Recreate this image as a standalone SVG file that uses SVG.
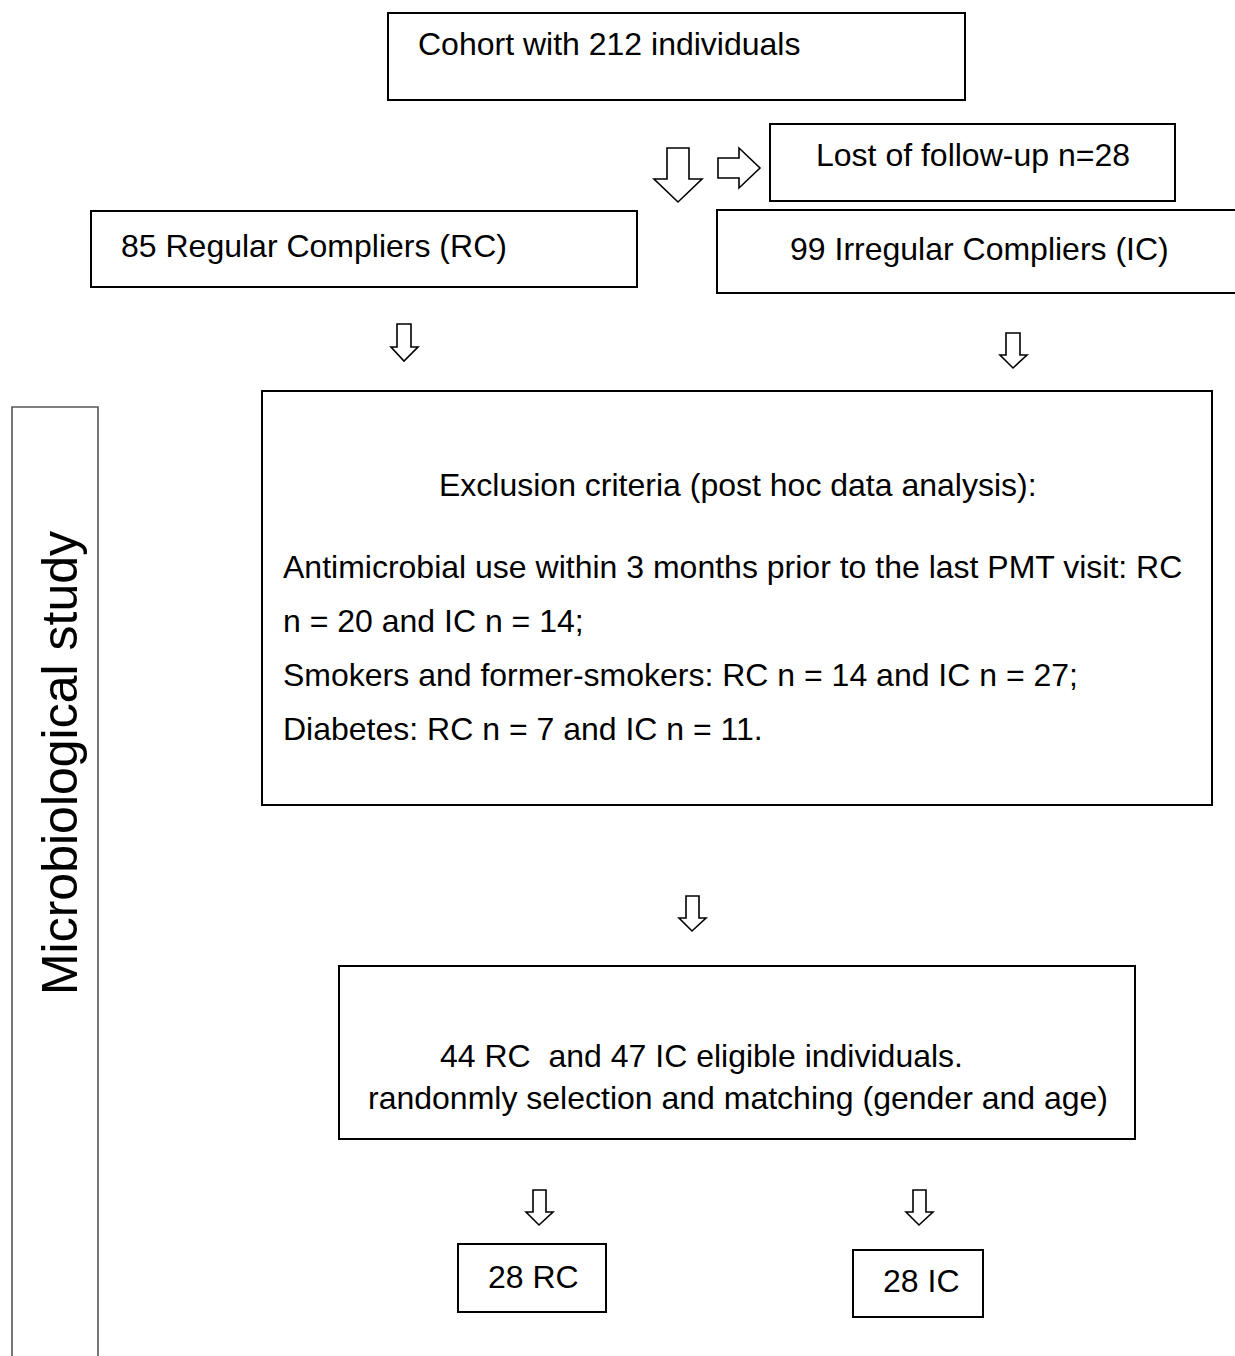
<svg xmlns="http://www.w3.org/2000/svg" width="1235" height="1356" viewBox="0 0 1235 1356">
<style>
text{font-family:"Liberation Sans",Arial,sans-serif;font-size:32px;fill:#000}
text.vert{font-size:50px}
.box{fill:#fff;stroke:#000;stroke-width:2}
.side{fill:none;stroke:#555;stroke-width:1.6}
.arr{fill:#fff;stroke:#000;stroke-width:1.6;stroke-linejoin:miter}
</style>
<rect width="1235" height="1356" fill="#fff"/>
<g id="side-label">
<path class="side" d="M12,1356 V407 H98 V1356"/>
<text class="vert" transform="translate(77,763) rotate(-90)" text-anchor="middle">Microbiological study</text>
</g>
<g id="cohort">
<rect class="box" x="388" y="13" width="577" height="87"/>
<text x="418" y="55">Cohort with 212 individuals</text>
</g>
<g id="lost">
<rect class="box" x="770" y="124" width="405" height="77"/>
<text x="816" y="166">Lost of follow-up n=28</text>
</g>
<g id="rc">
<rect class="box" x="91" y="211" width="546" height="76"/>
<text x="121" y="257">85 Regular Compliers (RC)</text>
</g>
<g id="ic">
<path class="box" d="M1236,210 H717 V293 H1236"/>
<text x="790" y="260">99 Irregular Compliers (IC)</text>
</g>
<g id="exclusion">
<rect class="box" x="262" y="391" width="950" height="414"/>
<text x="439" y="496">Exclusion criteria (post hoc data analysis):</text>
<text x="283" y="578">Antimicrobial use within 3 months prior to the last PMT visit: RC</text>
<text x="283" y="632">n = 20 and IC n = 14;</text>
<text x="283" y="686">Smokers and former-smokers: RC n = 14 and IC n = 27;</text>
<text x="283" y="740">Diabetes: RC n = 7 and IC n = 11.</text>
</g>
<g id="eligible">
<rect class="box" x="339" y="966" width="796" height="173"/>
<text x="440" y="1067">44 RC&#160; and 47 IC eligible individuals.</text>
<text x="368" y="1109">randonmly selection and matching (gender and age)</text>
</g>
<g id="final-rc">
<rect class="box" x="458" y="1244" width="148" height="68"/>
<text x="488" y="1288">28 RC</text>
</g>
<g id="final-ic">
<rect class="box" x="853" y="1250" width="130" height="67"/>
<text x="883" y="1292">28 IC</text>
</g>
<g id="connectors">
<path class="arr" d="M667,148 H689 V179 H702 L678,202 L654,179 H667 Z"/>
<path class="arr" d="M718,158 H739 V148 L760,168 L739,188 V178 H718 Z"/>
<path class="arr" d="M397,324 H411 V347 H418 L404,361 L391,347 H397 Z"/>
<path class="arr" d="M1006,333 H1020 V355 H1027 L1013,368 L1000,355 H1006 Z"/>
<path class="arr" d="M686,896 H699 V918 H706 L692,931 L679,918 H686 Z"/>
<path class="arr" d="M533,1190 H546 V1212 H553 L539,1225 L526,1212 H533 Z"/>
<path class="arr" d="M913,1190 H926 V1212 H933 L919,1225 L906,1212 H913 Z"/>
</g>
</svg>
